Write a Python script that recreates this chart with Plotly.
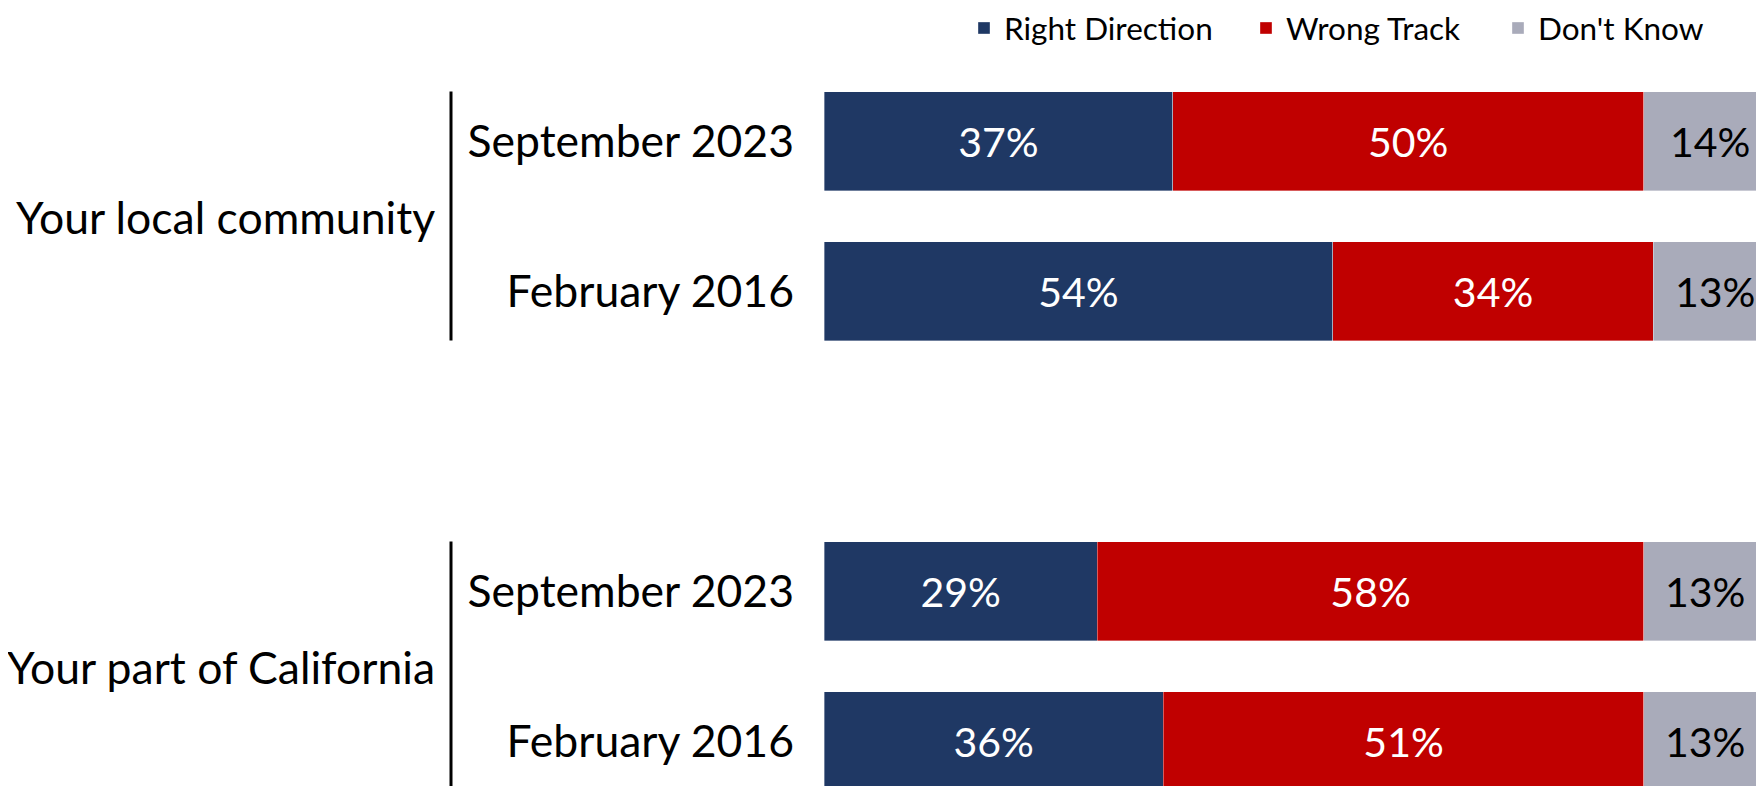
import plotly.graph_objects as go

# ---------------- data ----------------
groups = ["Your local community", "Your part of California"]
periods = ["September 2023", "February 2016"]
series_names = ["Right Direction", "Wrong Track", "Don't Know"]
right_direction = [37, 54, 29, 36]   # rows: group1-Sep23, group1-Feb16, group2-Sep23, group2-Feb16
wrong_track = [50, 34, 58, 51]
dont_know = [14, 13, 13, 13]

# ---------------- style ----------------
FONT = "Lato"
COLORS = {"Right Direction": "#1F3864", "Wrong Track": "#C00000", "Don't Know": "#A9ABBA"}
TEXT_COLORS = {"Right Direction": "white", "Wrong Track": "white", "Don't Know": "black"}
LEGEND_W = {"Right Direction": 237, "Wrong Track": 207, "Don't Know": 190}
OFF = 8                      # page body margin of the html page
W, H = 1764 - OFF, 786 - OFF
PLOT_L, PLOT_T = 824 - OFF, 66 - OFF
BAR_W = 0.66
LABEL_SIZE = 44.5
BAR_TEXT_SIZE = 41

# row positions: one empty slot between groups
positions, labels, group_of = [], [], []
for gi, g in enumerate(groups):
    for pi, p in enumerate(periods):
        positions.append(gi * (len(periods) + 1) + pi)
        labels.append(p)
        group_of.append(gi)

values = {"Right Direction": right_direction, "Wrong Track": wrong_track, "Don't Know": dont_know}

fig = go.Figure()
for name in series_names:
    vals = values[name]
    inside = name != "Don't Know"
    fig.add_trace(go.Bar(
        name=name, orientation="h", x=vals, y=positions, width=BAR_W,
        marker=dict(color=COLORS[name], line=dict(color="rgba(255,255,255,0.6)", width=0.6)),
        text=[f"{v}%" for v in vals] if inside else None,
        textposition="inside" if inside else "none", insidetextanchor="middle",
        textangle=0, constraintext="none",
        textfont=dict(family=FONT, size=BAR_TEXT_SIZE, color=TEXT_COLORS[name]),
        legendwidth=LEGEND_W[name],
        hoverinfo="skip",
    ))

plot_w = W - PLOT_L
plot_h = H - PLOT_T
def px_to_paper(px):
    return (px - OFF - PLOT_L) / plot_w

shapes, annotations = [], []
# labels of the last segment (it runs past the right edge of the page)
for i, pos in enumerate(positions):
    start = right_direction[i] + wrong_track[i]
    annotations.append(dict(text=f"{dont_know[i]}%", xref="x", yref="y",
                            x=start + dont_know[i] / 2, y=pos, showarrow=False,
                            xanchor="center", yanchor="middle",
                            font=dict(family=FONT, size=BAR_TEXT_SIZE, color=TEXT_COLORS["Don't Know"])))

for gi, g in enumerate(groups):
    pos = [p for p, gg in zip(positions, group_of) if gg == gi]
    y0, y1 = min(pos) - BAR_W / 2, max(pos) + BAR_W / 2
    shapes.append(dict(type="line", xref="paper", yref="y", x0=px_to_paper(451), x1=px_to_paper(451),
                       y0=y0, y1=y1, line=dict(color="black", width=3), layer="above"))
    annotations.append(dict(text=g, xref="paper", yref="y", x=0, y=(min(pos) + max(pos)) / 2,
                            xanchor="right", yanchor="middle", xshift=-387, showarrow=False,
                            font=dict(family=FONT, size=LABEL_SIZE, color="black")))

n_slots = plot_h / 150.0
fig.update_layout(
    width=W, height=H, barmode="stack",
    margin=dict(l=PLOT_L, r=0, t=PLOT_T, b=0, pad=0, autoexpand=False),
    paper_bgcolor="white", plot_bgcolor="white",
    font=dict(family=FONT, color="black"),
    xaxis=dict(range=[0, 99.75], visible=False, fixedrange=True, automargin=False),
    yaxis=dict(range=[-0.5 + n_slots, -0.5], tickvals=positions, ticktext=labels,
               tickfont=dict(family=FONT, size=LABEL_SIZE, color="black"), ticks="",
               showgrid=False, zeroline=False, showline=False, ticklabelstandoff=29,
               automargin=False, fixedrange=True),
    legend=dict(orientation="h", xref="container", yref="paper", x=956 / W, y=1 + 65 / plot_h,
                xanchor="left", yanchor="top", font=dict(family=FONT, size=31.5, color="black"),
                traceorder="normal", bgcolor="rgba(0,0,0,0)"),
    shapes=shapes, annotations=annotations,
)

fig.write_html("out.html")
